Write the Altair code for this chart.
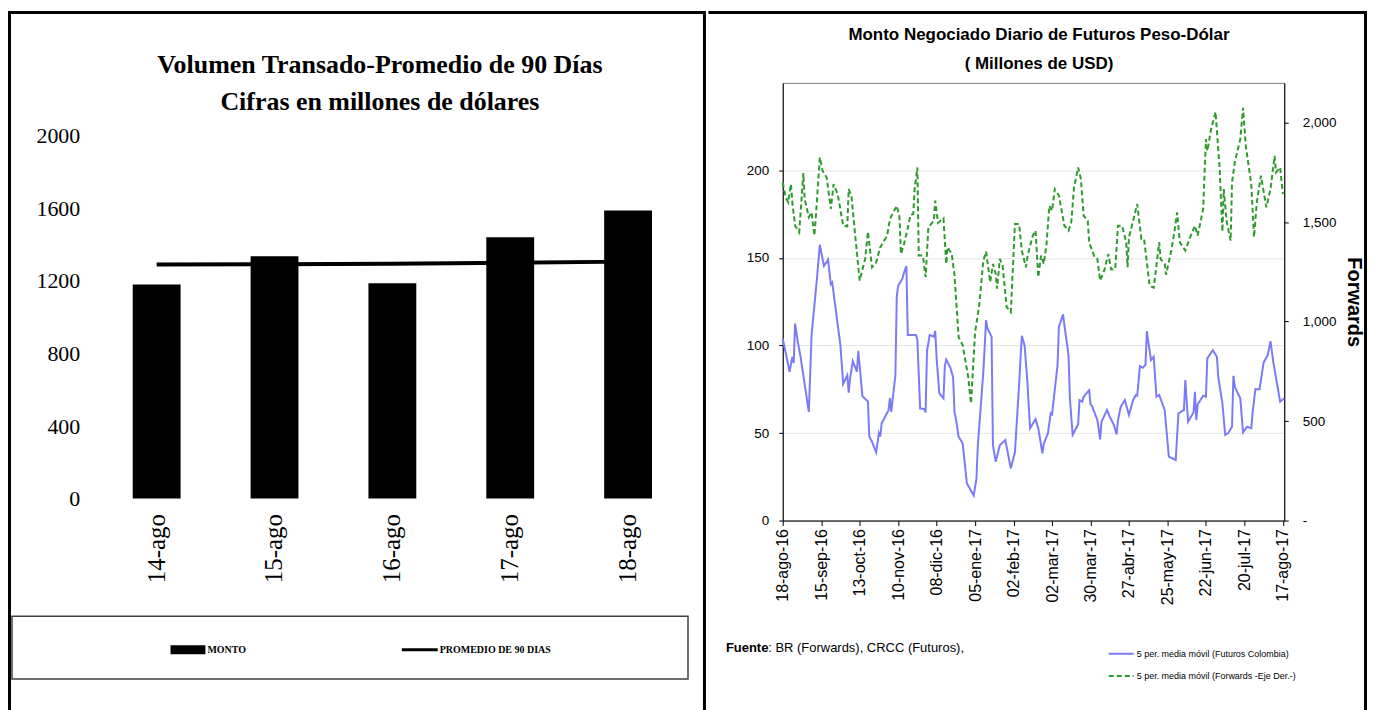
import altair as alt
import pandas as pd

# ---------------- Left chart data ----------------
dias = ["14-ago", "15-ago", "16-ago", "17-ago", "18-ago"]
monto = [1180, 1335, 1187, 1440, 1588]
promedio = [1290, 1292, 1294, 1300, 1306]

# ---------------- Right chart data ----------------
# day offsets from 18-ago-2016 and values
dias_futuros = [0, 5, 7, 8, 9, 11, 13, 19, 21, 25, 27, 30, 33, 35, 36, 42, 44, 47, 48, 49,
                51, 54, 55, 58, 62, 63, 65, 68, 70, 71, 72, 77, 78, 79, 82, 83, 84, 87, 88, 90,
                91, 97, 98, 100, 103, 104, 105, 107, 110, 111, 112, 114, 117, 118, 119, 122, 124, 125, 126, 128,
                131, 134, 139, 141, 142, 146, 148, 149, 152, 153, 155, 158, 162, 166, 169, 172, 174, 176, 178, 180,
                184, 186, 189, 190, 193, 195, 196, 200, 201, 204, 205, 208, 209, 211, 215, 216, 218, 219, 223, 224,
                225, 229, 231, 232, 236, 238, 241, 243, 244, 246, 249, 252, 255, 257, 258, 260, 262, 264, 265, 268,
                270, 272, 274, 278, 281, 286, 288, 292, 293, 295, 299, 300, 301, 302, 306, 308, 309, 313, 316, 317,
                320, 322, 324, 327, 328, 329, 333, 335, 338, 341, 342, 344, 347, 350, 353, 355, 357, 362, 365]
futuros = [104, 85, 93.5, 90, 112.5, 102, 93.5, 62, 106, 139, 157.6, 145.4, 149, 135, 136, 100, 78, 83, 73, 81,
           91, 85, 97, 71, 68, 48, 45, 39, 50, 48, 55.5, 63, 70, 62, 83, 128, 134, 138, 141, 145.4,
           106, 106, 103, 64, 63.7, 61.8, 97, 106, 105, 108.4, 92.6, 72.6, 69.8, 88.4, 92, 87.3, 82, 62, 58.4, 48,
           44, 21.3, 14.3, 24, 43, 85, 114.4, 109.7, 105, 43, 33.6, 43, 46, 29.8, 39, 77.4, 105.5, 100, 80, 52.7,
           58, 52.7, 38.4, 44, 49.8, 61.2, 60.6, 88.8, 110.6, 117.7, 111.6, 94.5, 69.8, 48.9, 55, 68.8, 67.9, 70.7, 74.5, 66.3,
           65.6, 57.4, 46.4, 56.5, 63.1, 59.3, 54.6, 49.2, 57.4, 65, 68.8, 60.3, 68.8, 71.7, 71.3, 88.2, 87.3, 88.8, 108.2, 91.6,
           93.5, 70.7, 71.7, 63.1, 36.5, 34.6, 61.2, 63.1, 80.2, 56.5, 61.8, 73.6, 57.4, 66.3, 71.3, 70.7, 92.6, 97.3, 93.5, 81.7,
           66.9, 48.9, 49.8, 53.6, 82.7, 76.4, 69.8, 50.4, 53.6, 52.7, 61.8, 75.1, 74.9, 90.3, 94.5, 102.5, 90.7, 67.9, 69.8]

dias_forwards = [0, 2, 4, 6, 7, 9, 12, 15, 16, 19, 21, 23, 24, 27, 29, 32, 35, 37, 40, 44,
                 47, 48, 50, 53, 56, 60, 62, 65, 68, 71, 76, 78, 83, 85, 86, 88, 91, 93, 95, 96,
                 98, 99, 102, 104, 106, 110, 111, 113, 117, 119, 120, 123, 125, 128, 131, 135, 137, 140, 143, 146,
                 148, 151, 153, 155, 156, 158, 160, 163, 166, 169, 172, 174, 177, 178, 180, 182, 184, 186, 188, 190,
                 192, 194, 196, 198, 201, 205, 208, 210, 212, 215, 217, 219, 222, 223, 227, 229, 231, 234, 237, 239,
                 242, 244, 247, 250, 251, 252, 255, 258, 261, 263, 267, 270, 272, 274, 275, 278, 279, 283, 285, 287,
                 289, 293, 296, 300, 302, 306, 308, 309, 312, 315, 318, 320, 321, 323, 326, 327, 329, 333, 335, 337,
                 341, 343, 345, 348, 352, 355, 358, 359, 362, 364]
forwards = [1699, 1629, 1599, 1691, 1599, 1482, 1449, 1746, 1616, 1524, 1549, 1432, 1516, 1825, 1758, 1724, 1566, 1691, 1641, 1482,
            1479, 1666, 1633, 1415, 1206, 1315, 1452, 1273, 1298, 1374, 1432, 1516, 1582, 1524, 1340, 1382, 1470, 1536, 1541, 1666,
            1775, 1332, 1332, 1223, 1474, 1507, 1608, 1496, 1519, 1290, 1374, 1340, 1235, 922, 881, 722, 588, 947, 1081, 1307,
            1352, 1198, 1290, 1240, 1165, 1315, 1282, 1073, 1048, 1491, 1491, 1357, 1273, 1323, 1380, 1432, 1457, 1223, 1332, 1290,
            1390, 1582, 1557, 1666, 1633, 1482, 1457, 1499, 1674, 1775, 1716, 1532, 1507, 1399, 1323, 1315, 1206, 1257, 1340, 1262,
            1265, 1482, 1482, 1399, 1273, 1424, 1507, 1591, 1415, 1415, 1181, 1170, 1282, 1399, 1315, 1290, 1235, 1365, 1449, 1549,
            1399, 1357, 1415, 1482, 1432, 1566, 1917, 1858, 1975, 2054, 1766, 1452, 1666, 1507, 1407, 1699, 1800, 1917, 2075, 1883,
            1691, 1424, 1599, 1733, 1574, 1666, 1833, 1750, 1775, 1641]

fechas_ticks = ["2016-08-18", "2016-09-15", "2016-10-13", "2016-11-10", "2016-12-08", "2017-01-05", "2017-02-02",
                "2017-03-02", "2017-03-30", "2017-04-27", "2017-05-25", "2017-06-22", "2017-07-20", "2017-08-17"]

LBL_FUT = "5 per. media móvil (Futuros Colombia)"
LBL_FWD = "5 per. media móvil (Forwards -Eje Der.-)"
BLUE = "#7B7BF7"
GREEN = "#2E9A2E"

base = pd.Timestamp("2016-08-18")
fut_df = pd.DataFrame({
    "fecha": [(base + pd.Timedelta(days=d)).strftime("%Y-%m-%d") for d in dias_futuros],
    "valor": futuros, "serie": LBL_FUT})
fwd_df = pd.DataFrame({
    "fecha": [(base + pd.Timedelta(days=d)).strftime("%Y-%m-%d") for d in dias_forwards],
    "valor": forwards, "serie": LBL_FWD})
izq_df = pd.DataFrame({"dia": dias, "monto": monto, "promedio": promedio})
uno = pd.DataFrame({"k": [0]})


def dt(s):
    y, m, d = [int(v) for v in s.split("-")]
    return alt.DateTime(year=y, month=m, date=d, utc=True)


def txt(text, x, y, size, font, weight="normal", align="left", color="black"):
    return alt.Chart(uno).mark_text(font=font, fontSize=size, fontWeight=weight, align=align,
                                    baseline="alphabetic", color=color).encode(
        x=alt.value(x), y=alt.value(y), text=alt.value(text))


# ---------------- Left panel (plot origin at page 98, 80) ----------------
SERIF = "Liberation Serif"
x_izq = alt.X("dia:N", sort=dias,
              scale=alt.Scale(paddingInner=0.594, paddingOuter=0.297),
              axis=alt.Axis(title=None, labelAngle=-90, labelFont=SERIF, labelFontSize=25,
                            labelColor="black", labelPadding=15, domain=False, ticks=False))
bars = alt.Chart(izq_df).mark_bar(color="black").encode(
    x=x_izq,
    y=alt.Y("monto:Q", scale=alt.Scale(domain=[0, 2291.2], nice=False, zero=True),
            axis=alt.Axis(title=None, values=[0, 400, 800, 1200, 1600, 2000], format="d", grid=False,
                          domain=False, ticks=False, labelFont=SERIF, labelFontSize=22,
                          labelPadding=18, labelColor="black")))
linea = alt.Chart(izq_df).mark_line(color="black", strokeWidth=4).encode(x=x_izq, y="promedio:Q")

marco_izq = alt.Chart(uno).mark_rect(filled=False, color="black", strokeWidth=3).encode(
    x=alt.value(-88.5), x2=alt.value(608.5), y=alt.value(-70.5), y2=alt.value(650))
caja_ley = alt.Chart(uno).mark_rect(filled=False, color="#404040", strokeWidth=1.5).encode(
    x=alt.value(-86), x2=alt.value(592), y=alt.value(535), y2=alt.value(598))
sw_monto = alt.Chart(uno).mark_rect(color="black").encode(
    x=alt.value(73), x2=alt.value(108), y=alt.value(564), y2=alt.value(573))
sw_prom = alt.Chart(uno).mark_rule(color="black", strokeWidth=3).encode(
    x=alt.value(305), x2=alt.value(341), y=alt.value(568.5))

izq = alt.layer(
    marco_izq, bars, linea,
    txt("Volumen Transado-Promedio de 90 Días", 283, -10, 26, SERIF, "bold", "center"),
    txt("Cifras en millones de dólares", 283, 27, 26, SERIF, "bold", "center"),
    caja_ley, sw_monto, sw_prom,
    txt("MONTO", 110, 572, 10, SERIF, "bold"),
    txt("PROMEDIO DE 90 DIAS", 343, 572, 10, SERIF, "bold"),
).properties(width=591, height=417, view=alt.ViewBackground(strokeWidth=0))

# ---------------- Right panel (plot origin at page 784, 80) ----------------
SANS = "Liberation Sans"
month_expr = ("utcFormat(datum.value, '%d') + '-' + ['ene','feb','mar','abr','may','jun','jul','ago',"
              "'sep','oct','nov','dic'][utcmonth(datum.value)] + '-' + utcFormat(datum.value, '%y')")
x_der = alt.X("fecha:T",
              scale=alt.Scale(type="utc", domain=[dt("2016-08-18"), dt("2017-08-18")]),
              axis=alt.Axis(title=None, values=[dt(s) for s in fechas_ticks], labelExpr=month_expr,
                            labelAngle=-90, labelFont=SANS, labelFontSize=16, labelColor="black",
                            labelPadding=3, tickSize=5, tickColor="black", domainColor="black",
                            grid=False, labelOverlap=False, labelFlush=False))
ley = alt.Legend(title=None, orient="none", legendX=1013, legendY=559,
                 labelFont=SANS, labelFontSize=9, labelColor="black",
                 symbolSize=625, symbolStrokeWidth=2, rowPadding=3.3,
                 labelOffset=2, padding=0, symbolType="stroke")
color_enc = alt.Color("serie:N", scale=alt.Scale(domain=[LBL_FUT, LBL_FWD], range=[BLUE, GREEN]),
                      legend=ley)
dash_enc = alt.StrokeDash("serie:N", scale=alt.Scale(domain=[LBL_FUT, LBL_FWD], range=[[1, 0], [5, 3]]),
                          legend=ley)

l_fut = alt.Chart(fut_df).mark_line(strokeWidth=2).encode(
    x=x_der,
    y=alt.Y("valor:Q", scale=alt.Scale(domain=[0, 250]),
            axis=alt.Axis(title=None, orient="left", values=[0, 50, 100, 150, 200], grid=True,
                          gridColor="#E6E6E6", labelFont=SANS, labelFontSize=13.5, labelColor="black",
                          tickSize=4, tickColor="black", domainColor="black", labelPadding=10)),
    color=color_enc, strokeDash=dash_enc)
l_fwd = alt.Chart(fwd_df).mark_line(strokeWidth=2).encode(
    x=x_der,
    y=alt.Y("valor:Q", scale=alt.Scale(domain=[0, 2200]),
            axis=alt.Axis(title="Forwards", orient="right", values=[0, 500, 1000, 1500, 2000],
                          labelExpr="datum.value == 0 ? '-' : format(datum.value, ',')", grid=False,
                          labelFont=SANS, labelFontSize=13.5, labelColor="black", tickSize=4,
                          tickColor="black", domainColor="black", labelPadding=14,
                          titleFont=SANS, titleFontSize=20, titleFontWeight="bold", titleColor="black",
                          titleAngle=90, titlePadding=8)),
    color=color_enc, strokeDash=dash_enc)

borde_sup = alt.Chart(uno).mark_rule(color="black", strokeWidth=3).encode(
    x=alt.value(-74.5), x2=alt.value(586), y=alt.value(-70.5))
borde_der = alt.Chart(uno).mark_rule(color="black", strokeWidth=3).encode(
    x=alt.value(584.5), y=alt.value(-72), y2=alt.value(650))

lineas = alt.layer(l_fut, l_fwd).resolve_scale(y="independent")

der = alt.layer(
    lineas, borde_sup, borde_der,
    txt("Monto Negociado Diario de Futuros Peso-Dólar", 257, -43, 17, SANS, "bold", "center"),
    txt("( Millones de USD)", 257, -14, 17, SANS, "bold", "center"),
    txt("Fuente", -57, 571, 13, SANS, "bold"),
    txt(": BR (Forwards), CRCC (Futuros),", -14.5, 571, 13, SANS),
).properties(width=503, height=439,
             view=alt.ViewBackground(stroke="#808080", strokeWidth=1))

chart = alt.hconcat(izq, der, spacing=0).properties(
    padding=0, background="white"
).configure_view(strokeWidth=0)

chart.save("out.html", embed_options={"renderer": "svg", "actions": False})
